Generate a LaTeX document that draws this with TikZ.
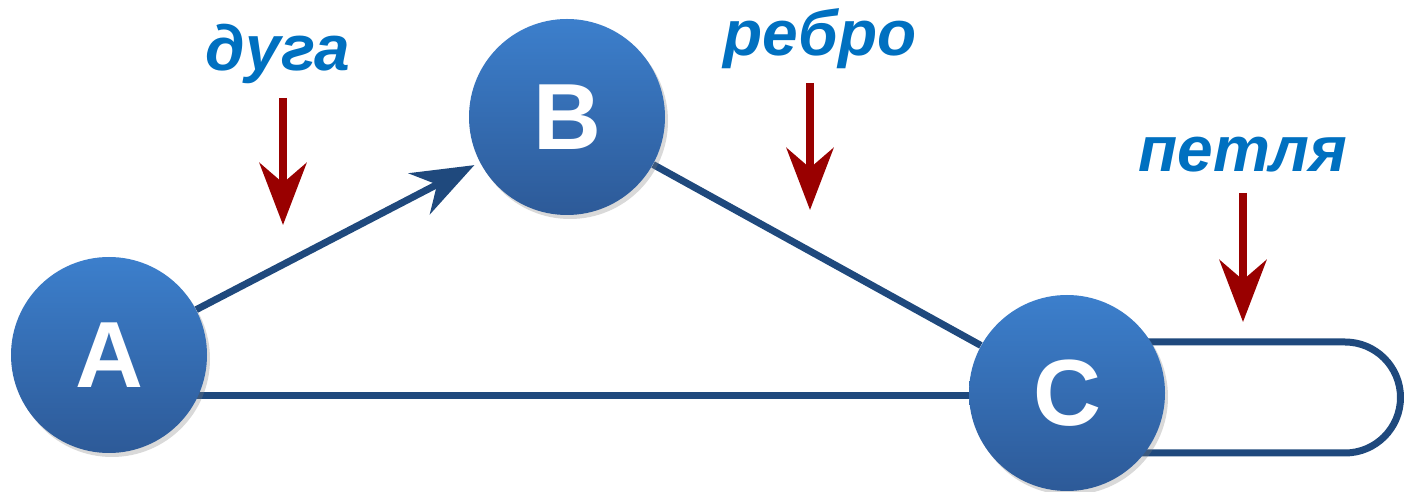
\documentclass[tikz,border=0pt]{standalone}
\usepackage{fontspec}
\setmainfont{Liberation Sans}
\usetikzlibrary{arrows.meta,shadows,backgrounds}
\definecolor{nodetop}{RGB}{60,127,204}
\definecolor{nodebot}{RGB}{45,90,152}
\definecolor{edgeblue}{RGB}{31,73,125}
\definecolor{markred}{RGB}{153,0,0}
\definecolor{labelblue}{RGB}{0,112,192}
\begin{document}
\begin{tikzpicture}[x=0.5pt,y=0.5pt,
  vertex/.style={circle,minimum size=98pt,inner sep=0pt,top color=nodetop,bottom color=nodebot,
    text=white,font=\fontsize{47}{47}\selectfont\bfseries,
    drop shadow={opacity=0.3,shadow xshift=1.5pt,shadow yshift=-2pt}},
  edge/.style={draw=edgeblue,line width=3.5pt},
  pointer/.style={draw=markred,line width=4pt,-{Stealth[length=31pt,width=23.5pt,inset=10pt]}},
  tag/.style={text=labelblue,font=\fontsize{32}{32}\selectfont\bfseries\itshape}]
\useasboundingbox (0,0) rectangle (1404,492);
\node[vertex] (A) at (109,137) {A};
\node[vertex] (B) at (567,375) {B};
\node[vertex] (C) at (1067,99) {C};
\node[tag] (duga) at (278,438) {дуга};
\node[tag] (rebro) at (820,453) {ребро};
\node[tag] (petlya) at (1243,337) {петля};
\coordinate (dugaTop) at (283,394);
\coordinate (dugaTip) at (283,267);
\coordinate (rebroTop) at (810,409);
\coordinate (rebroTip) at (810,282);
\coordinate (petlyaTop) at (1243,299);
\coordinate (petlyaTip) at (1243,170);
\begin{pgfonlayer}{background}
\draw[edge] (B) -- (C);
\draw[edge] (A |- 0,96) -- (C |- 0,96);
\draw[edge] (C |- 0,150) -- (1345,150) arc[start angle=90,end angle=-90,radius=55.5] -- (C |- 0,39);
\end{pgfonlayer}
\draw[edge,-{Stealth[length=31pt,width=23pt,inset=10pt]},shorten >=3pt] (A) -- (B);
\draw[pointer] (dugaTop) -- (dugaTip);
\draw[pointer] (rebroTop) -- (rebroTip);
\draw[pointer] (petlyaTop) -- (petlyaTip);
\end{tikzpicture}
\end{document}
